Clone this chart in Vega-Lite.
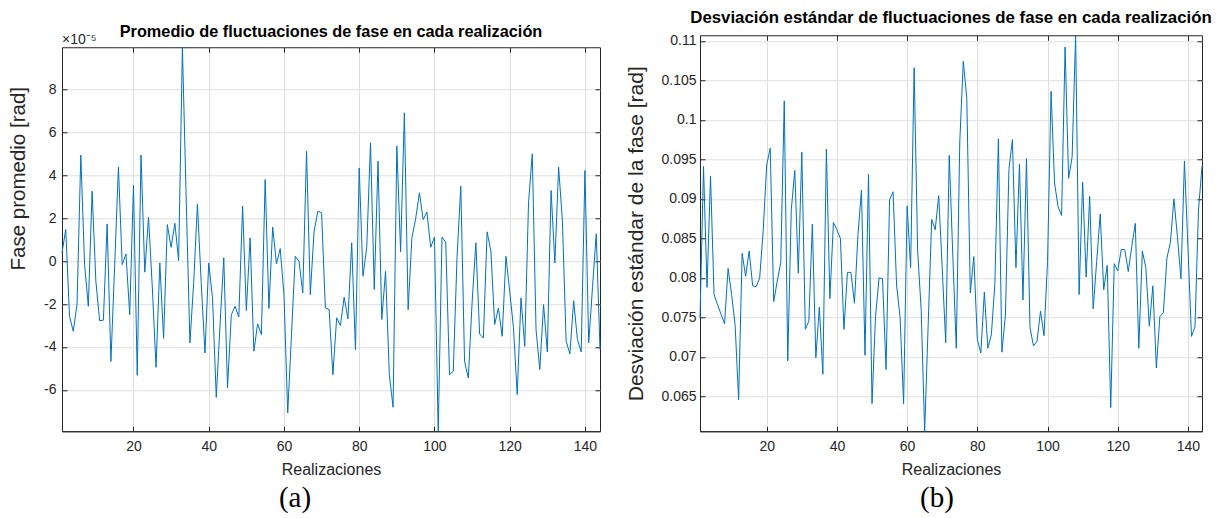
{
  "$schema": "https://vega.github.io/schema/vega-lite/v6.json",
  "padding": {"left": 8, "top": 9, "right": 0, "bottom": 0},
  "background": "white",
  "config": {
    "font": "Liberation Sans",
    "locale": {"number": {"decimal": ".", "thousands": ",", "grouping": [3], "currency": ["$", ""], "minus": "-"}},
    "view": {"stroke": "#262626", "strokeWidth": 1},
    "axis": {
      "domainColor": "#262626", "domainWidth": 1,
      "tickColor": "#262626", "tickSize": -5,
      "labelColor": "#262626", "labelFontSize": 14, "labelFont": "Liberation Sans",
      "titleColor": "#262626", "titleFontWeight": "normal", "titleFont": "Liberation Sans",
      "gridColor": "#dfdfdf", "gridWidth": 1
    },
    "title": {"font": "Liberation Sans", "fontWeight": "bold", "fontSize": 16, "color": "#000000"}
  },
  "datasets": {
    "promedio": [
      {"realizacion": 1, "fase": 0.39}, {"realizacion": 2, "fase": 1.48}, {"realizacion": 3, "fase": -2.57}, {"realizacion": 4, "fase": -3.27},
      {"realizacion": 5, "fase": -2.0}, {"realizacion": 6, "fase": 4.95}, {"realizacion": 7, "fase": -0.16}, {"realizacion": 8, "fase": -2.1},
      {"realizacion": 9, "fase": 3.27}, {"realizacion": 10, "fase": -0.93}, {"realizacion": 11, "fase": -2.77}, {"realizacion": 12, "fase": -2.75},
      {"realizacion": 13, "fase": 1.74}, {"realizacion": 14, "fase": -4.67}, {"realizacion": 15, "fase": -0.2}, {"realizacion": 16, "fase": 4.39},
      {"realizacion": 17, "fase": -0.16}, {"realizacion": 18, "fase": 0.34}, {"realizacion": 19, "fase": -2.49}, {"realizacion": 20, "fase": 3.55},
      {"realizacion": 21, "fase": -5.32}, {"realizacion": 22, "fase": 4.95}, {"realizacion": 23, "fase": -0.51}, {"realizacion": 24, "fase": 2.05},
      {"realizacion": 25, "fase": -1.2}, {"realizacion": 26, "fase": -4.95}, {"realizacion": 27, "fase": -0.08}, {"realizacion": 28, "fase": -3.6},
      {"realizacion": 29, "fase": 1.71}, {"realizacion": 30, "fase": 0.65}, {"realizacion": 31, "fase": 1.77}, {"realizacion": 32, "fase": 0.03},
      {"realizacion": 33, "fase": 9.98}, {"realizacion": 34, "fase": 3.0}, {"realizacion": 35, "fase": -3.81}, {"realizacion": 36, "fase": -1.0},
      {"realizacion": 37, "fase": 2.67}, {"realizacion": 38, "fase": -1.0}, {"realizacion": 39, "fase": -4.28}, {"realizacion": 40, "fase": -0.08},
      {"realizacion": 41, "fase": -1.7}, {"realizacion": 42, "fase": -6.35}, {"realizacion": 43, "fase": -3.0}, {"realizacion": 44, "fase": 0.16},
      {"realizacion": 45, "fase": -5.9}, {"realizacion": 46, "fase": -2.5}, {"realizacion": 47, "fase": -2.1}, {"realizacion": 48, "fase": -2.6},
      {"realizacion": 49, "fase": 2.57}, {"realizacion": 50, "fase": -2.3}, {"realizacion": 51, "fase": 1.09}, {"realizacion": 52, "fase": -4.2},
      {"realizacion": 53, "fase": -2.92}, {"realizacion": 54, "fase": -3.42}, {"realizacion": 55, "fase": 3.81}, {"realizacion": 56, "fase": -2.2},
      {"realizacion": 57, "fase": 1.59}, {"realizacion": 58, "fase": -0.12}, {"realizacion": 59, "fase": 0.59}, {"realizacion": 60, "fase": -1.56},
      {"realizacion": 61, "fase": -7.08}, {"realizacion": 62, "fase": -3.4}, {"realizacion": 63, "fase": 0.23}, {"realizacion": 64, "fase": 0.0},
      {"realizacion": 65, "fase": -1.48}, {"realizacion": 66, "fase": 5.13}, {"realizacion": 67, "fase": -1.56}, {"realizacion": 68, "fase": 1.4},
      {"realizacion": 69, "fase": 2.33}, {"realizacion": 70, "fase": 2.26}, {"realizacion": 71, "fase": -2.18}, {"realizacion": 72, "fase": -2.26},
      {"realizacion": 73, "fase": -5.29}, {"realizacion": 74, "fase": -2.64}, {"realizacion": 75, "fase": -3.0}, {"realizacion": 76, "fase": -1.68},
      {"realizacion": 77, "fase": -2.69}, {"realizacion": 78, "fase": 0.86}, {"realizacion": 79, "fase": -4.12}, {"realizacion": 80, "fase": 4.35},
      {"realizacion": 81, "fase": -0.7}, {"realizacion": 82, "fase": 0.65}, {"realizacion": 83, "fase": 5.52}, {"realizacion": 84, "fase": -1.32},
      {"realizacion": 85, "fase": 4.67}, {"realizacion": 86, "fase": -2.72}, {"realizacion": 87, "fase": -0.47}, {"realizacion": 88, "fase": -5.29},
      {"realizacion": 89, "fase": -6.81}, {"realizacion": 90, "fase": 5.37}, {"realizacion": 91, "fase": 0.44}, {"realizacion": 92, "fase": 6.92},
      {"realizacion": 93, "fase": -2.26}, {"realizacion": 94, "fase": 1.09}, {"realizacion": 95, "fase": 1.98}, {"realizacion": 96, "fase": 3.19},
      {"realizacion": 97, "fase": 1.94}, {"realizacion": 98, "fase": 2.29}, {"realizacion": 99, "fase": 0.65}, {"realizacion": 100, "fase": 1.12},
      {"realizacion": 101, "fase": -7.93}, {"realizacion": 102, "fase": 1.12}, {"realizacion": 103, "fase": 0.89}, {"realizacion": 104, "fase": -5.29},
      {"realizacion": 105, "fase": -5.13}, {"realizacion": 106, "fase": 0.19}, {"realizacion": 107, "fase": 3.5}, {"realizacion": 108, "fase": -4.67},
      {"realizacion": 109, "fase": -5.45}, {"realizacion": 110, "fase": -1.94}, {"realizacion": 111, "fase": 0.86}, {"realizacion": 112, "fase": -3.39},
      {"realizacion": 113, "fase": -3.58}, {"realizacion": 114, "fase": 1.37}, {"realizacion": 115, "fase": 0.47}, {"realizacion": 116, "fase": -2.95},
      {"realizacion": 117, "fase": -2.18}, {"realizacion": 118, "fase": -3.5}, {"realizacion": 119, "fase": 0.23}, {"realizacion": 120, "fase": -1.4},
      {"realizacion": 121, "fase": -3.1}, {"realizacion": 122, "fase": -6.22}, {"realizacion": 123, "fase": -1.71}, {"realizacion": 124, "fase": -3.97},
      {"realizacion": 125, "fase": 2.72}, {"realizacion": 126, "fase": 5.01}, {"realizacion": 127, "fase": -3.19}, {"realizacion": 128, "fase": -5.05},
      {"realizacion": 129, "fase": -2.02}, {"realizacion": 130, "fase": -4.23}, {"realizacion": 131, "fase": 3.3}, {"realizacion": 132, "fase": -0.08},
      {"realizacion": 133, "fase": 4.39}, {"realizacion": 134, "fase": 1.9}, {"realizacion": 135, "fase": -3.73}, {"realizacion": 136, "fase": -4.32},
      {"realizacion": 137, "fase": -1.84}, {"realizacion": 138, "fase": -3.65}, {"realizacion": 139, "fase": -4.23}, {"realizacion": 140, "fase": 4.23},
      {"realizacion": 141, "fase": -3.81}, {"realizacion": 142, "fase": -1.24}, {"realizacion": 143, "fase": 1.28}, {"realizacion": 144, "fase": -4.12}
    ],
    "desviacion": [
      {"realizacion": 1, "desv": 0.0749}, {"realizacion": 2, "desv": 0.0941}, {"realizacion": 3, "desv": 0.0788}, {"realizacion": 4, "desv": 0.0929},
      {"realizacion": 5, "desv": 0.0779}, {"realizacion": 6, "desv": 0.0766}, {"realizacion": 7, "desv": 0.0754}, {"realizacion": 8, "desv": 0.0742},
      {"realizacion": 9, "desv": 0.0812}, {"realizacion": 10, "desv": 0.0779}, {"realizacion": 11, "desv": 0.0741}, {"realizacion": 12, "desv": 0.0646},
      {"realizacion": 13, "desv": 0.0831}, {"realizacion": 14, "desv": 0.0802}, {"realizacion": 15, "desv": 0.0834}, {"realizacion": 16, "desv": 0.079},
      {"realizacion": 17, "desv": 0.0789}, {"realizacion": 18, "desv": 0.08}, {"realizacion": 19, "desv": 0.086}, {"realizacion": 20, "desv": 0.0943},
      {"realizacion": 21, "desv": 0.0964}, {"realizacion": 22, "desv": 0.077}, {"realizacion": 23, "desv": 0.0796}, {"realizacion": 24, "desv": 0.0819},
      {"realizacion": 25, "desv": 0.1024}, {"realizacion": 26, "desv": 0.0695}, {"realizacion": 27, "desv": 0.0886}, {"realizacion": 28, "desv": 0.0936},
      {"realizacion": 29, "desv": 0.0806}, {"realizacion": 30, "desv": 0.0959}, {"realizacion": 31, "desv": 0.0735}, {"realizacion": 32, "desv": 0.0745},
      {"realizacion": 33, "desv": 0.0868}, {"realizacion": 34, "desv": 0.0699}, {"realizacion": 35, "desv": 0.0763}, {"realizacion": 36, "desv": 0.0678},
      {"realizacion": 37, "desv": 0.0963}, {"realizacion": 38, "desv": 0.0774}, {"realizacion": 39, "desv": 0.087}, {"realizacion": 40, "desv": 0.0861},
      {"realizacion": 41, "desv": 0.085}, {"realizacion": 42, "desv": 0.0735}, {"realizacion": 43, "desv": 0.0807}, {"realizacion": 44, "desv": 0.0807},
      {"realizacion": 45, "desv": 0.0768}, {"realizacion": 46, "desv": 0.0855}, {"realizacion": 47, "desv": 0.0911}, {"realizacion": 48, "desv": 0.0702},
      {"realizacion": 49, "desv": 0.0931}, {"realizacion": 50, "desv": 0.0641}, {"realizacion": 51, "desv": 0.0751}, {"realizacion": 52, "desv": 0.08},
      {"realizacion": 53, "desv": 0.0799}, {"realizacion": 54, "desv": 0.0684}, {"realizacion": 55, "desv": 0.0899}, {"realizacion": 56, "desv": 0.0909},
      {"realizacion": 57, "desv": 0.0791}, {"realizacion": 58, "desv": 0.075}, {"realizacion": 59, "desv": 0.0641}, {"realizacion": 60, "desv": 0.0891},
      {"realizacion": 61, "desv": 0.0813}, {"realizacion": 62, "desv": 0.1066}, {"realizacion": 63, "desv": 0.0834}, {"realizacion": 64, "desv": 0.076},
      {"realizacion": 65, "desv": 0.0606}, {"realizacion": 66, "desv": 0.0741}, {"realizacion": 67, "desv": 0.0874}, {"realizacion": 68, "desv": 0.0861},
      {"realizacion": 69, "desv": 0.0904}, {"realizacion": 70, "desv": 0.0812}, {"realizacion": 71, "desv": 0.0718}, {"realizacion": 72, "desv": 0.0955},
      {"realizacion": 73, "desv": 0.083}, {"realizacion": 74, "desv": 0.0711}, {"realizacion": 75, "desv": 0.0972}, {"realizacion": 76, "desv": 0.1074},
      {"realizacion": 77, "desv": 0.1027}, {"realizacion": 78, "desv": 0.0781}, {"realizacion": 79, "desv": 0.0827}, {"realizacion": 80, "desv": 0.0722},
      {"realizacion": 81, "desv": 0.0705}, {"realizacion": 82, "desv": 0.0782}, {"realizacion": 83, "desv": 0.0711}, {"realizacion": 84, "desv": 0.0728},
      {"realizacion": 85, "desv": 0.0793}, {"realizacion": 86, "desv": 0.0976}, {"realizacion": 87, "desv": 0.0706}, {"realizacion": 88, "desv": 0.0753},
      {"realizacion": 89, "desv": 0.0937}, {"realizacion": 90, "desv": 0.0975}, {"realizacion": 91, "desv": 0.0813}, {"realizacion": 92, "desv": 0.0944},
      {"realizacion": 93, "desv": 0.0772}, {"realizacion": 94, "desv": 0.0951}, {"realizacion": 95, "desv": 0.0737}, {"realizacion": 96, "desv": 0.0714},
      {"realizacion": 97, "desv": 0.072}, {"realizacion": 98, "desv": 0.0758}, {"realizacion": 99, "desv": 0.0727}, {"realizacion": 100, "desv": 0.0821},
      {"realizacion": 101, "desv": 0.1036}, {"realizacion": 102, "desv": 0.092}, {"realizacion": 103, "desv": 0.089}, {"realizacion": 104, "desv": 0.0879},
      {"realizacion": 105, "desv": 0.1092}, {"realizacion": 106, "desv": 0.0926}, {"realizacion": 107, "desv": 0.0953}, {"realizacion": 108, "desv": 0.1107},
      {"realizacion": 109, "desv": 0.0779}, {"realizacion": 110, "desv": 0.0921}, {"realizacion": 111, "desv": 0.0801}, {"realizacion": 112, "desv": 0.0903},
      {"realizacion": 113, "desv": 0.0761}, {"realizacion": 114, "desv": 0.0821}, {"realizacion": 115, "desv": 0.0881}, {"realizacion": 116, "desv": 0.0785},
      {"realizacion": 117, "desv": 0.0816}, {"realizacion": 118, "desv": 0.0636}, {"realizacion": 119, "desv": 0.0818}, {"realizacion": 120, "desv": 0.0809},
      {"realizacion": 121, "desv": 0.0836}, {"realizacion": 122, "desv": 0.0836}, {"realizacion": 123, "desv": 0.0808}, {"realizacion": 124, "desv": 0.084},
      {"realizacion": 125, "desv": 0.0869}, {"realizacion": 126, "desv": 0.0711}, {"realizacion": 127, "desv": 0.0834}, {"realizacion": 128, "desv": 0.0813},
      {"realizacion": 129, "desv": 0.0739}, {"realizacion": 130, "desv": 0.079}, {"realizacion": 131, "desv": 0.0686}, {"realizacion": 132, "desv": 0.0751},
      {"realizacion": 133, "desv": 0.0756}, {"realizacion": 134, "desv": 0.0825}, {"realizacion": 135, "desv": 0.0845}, {"realizacion": 136, "desv": 0.09},
      {"realizacion": 137, "desv": 0.0852}, {"realizacion": 138, "desv": 0.0799}, {"realizacion": 139, "desv": 0.0948}, {"realizacion": 140, "desv": 0.0838},
      {"realizacion": 141, "desv": 0.0726}, {"realizacion": 142, "desv": 0.0738}, {"realizacion": 143, "desv": 0.0886}, {"realizacion": 144, "desv": 0.0941}
    ]
  },
  "spacing": -6,
  "vconcat": [
    {
      "spacing": 22,
      "center": true,
      "hconcat": [
        {
          "width": 538,
          "height": 384,
          "title": {"text": "Promedio de fluctuaciones de fase en cada realización", "offset": -7, "fontSize": 16.3},
          "data": {"name": "promedio"},
          "resolve": {"axis": {"x": "independent", "y": "independent"}},
          "layer": [
            {
              "mark": {"type": "line", "color": "#0072BD", "strokeWidth": 1},
              "encoding": {
                "x": {
                  "field": "realizacion", "type": "quantitative",
                  "scale": {"domain": [1, 144], "nice": false, "zero": false},
                  "axis": {"values": [20, 40, 60, 80, 100, 120, 140], "title": "Realizaciones", "titleFontSize": 16, "labelPadding": 13, "titlePadding": 8}
                },
                "y": {
                  "field": "fase", "type": "quantitative",
                  "scale": {"nice": false, "zero": false},
                  "axis": {"values": [-6, -4, -2, 0, 2, 4, 6, 8], "title": "Fase promedio [rad]", "titleFontSize": 20.5, "labelPadding": 11, "titlePadding": 15, "titleY": 131}
                }
              }
            },
            {
              "data": {"values": [{"factor": "×10⁻⁵"}]},
              "mark": {"type": "text", "align": "left", "baseline": "alphabetic", "dy": -3, "fontSize": 14, "color": "#262626"},
              "encoding": {
                "x": {"datum": 1, "axis": null},
                "y": {"datum": 9.98, "axis": null},
                "text": {"field": "factor"}
              }
            },
            {
              "mark": {"type": "line", "strokeOpacity": 0},
              "encoding": {
                "x": {"field": "realizacion", "type": "quantitative", "axis": {"orient": "top", "values": [20, 40, 60, 80, 100, 120, 140], "labels": false, "title": null, "grid": false, "domain": false}},
                "y": {"field": "fase", "type": "quantitative", "axis": {"orient": "right", "values": [-6, -4, -2, 0, 2, 4, 6, 8], "labels": false, "title": null, "grid": false, "domain": false}}
              }
            }
          ]
        },
        {
          "width": 502,
          "height": 396,
          "title": {"text": "Desviación estándar de fluctuaciones de fase en cada realización", "offset": 6, "fontSize": 16.8},
          "data": {"name": "desviacion"},
          "resolve": {"axis": {"x": "independent", "y": "independent"}},
          "layer": [
            {
              "mark": {"type": "line", "color": "#0072BD", "strokeWidth": 1},
              "encoding": {
                "x": {
                  "field": "realizacion", "type": "quantitative",
                  "scale": {"domain": [1, 144], "nice": false, "zero": false},
                  "axis": {"values": [20, 40, 60, 80, 100, 120, 140], "title": ["Realizaciones", ""], "titleLineHeight": 12, "titleFontSize": 16, "labelPadding": 13, "titlePadding": 8}
                },
                "y": {
                  "field": "desv", "type": "quantitative",
                  "scale": {"nice": false, "zero": false},
                  "axis": {"values": [0.065, 0.07, 0.075, 0.08, 0.085, 0.09, 0.095, 0.1, 0.105, 0.11], "format": ".3~g", "title": "Desviación estándar de la fase [rad]", "titleFontSize": 21, "labelPadding": 9, "titlePadding": 14}
                }
              }
            },
            {
              "mark": {"type": "line", "strokeOpacity": 0},
              "encoding": {
                "x": {"field": "realizacion", "type": "quantitative", "axis": {"orient": "top", "values": [20, 40, 60, 80, 100, 120, 140], "labels": false, "title": null, "grid": false, "domain": false}},
                "y": {"field": "desv", "type": "quantitative", "axis": {"orient": "right", "values": [0.065, 0.07, 0.075, 0.08, 0.085, 0.09, 0.095, 0.1, 0.105, 0.11], "labels": false, "title": null, "grid": false, "domain": false}}
              }
            }
          ]
        }
      ]
    },
    {
      "spacing": 129,
      "hconcat": [
        {
          "width": 466,
          "height": 4,
          "view": {"stroke": null},
          "data": {"values": [{"etiqueta": "(a)"}]},
          "mark": {"type": "text", "font": "Liberation Serif", "fontSize": 29, "color": "#000000"},
          "encoding": {"text": {"field": "etiqueta"}}
        },
        {
          "width": 560,
          "height": 4,
          "view": {"stroke": null},
          "data": {"values": [{"etiqueta": "(b)"}]},
          "mark": {"type": "text", "font": "Liberation Serif", "fontSize": 29, "color": "#000000"},
          "encoding": {"text": {"field": "etiqueta"}}
        }
      ]
    }
  ]
}
